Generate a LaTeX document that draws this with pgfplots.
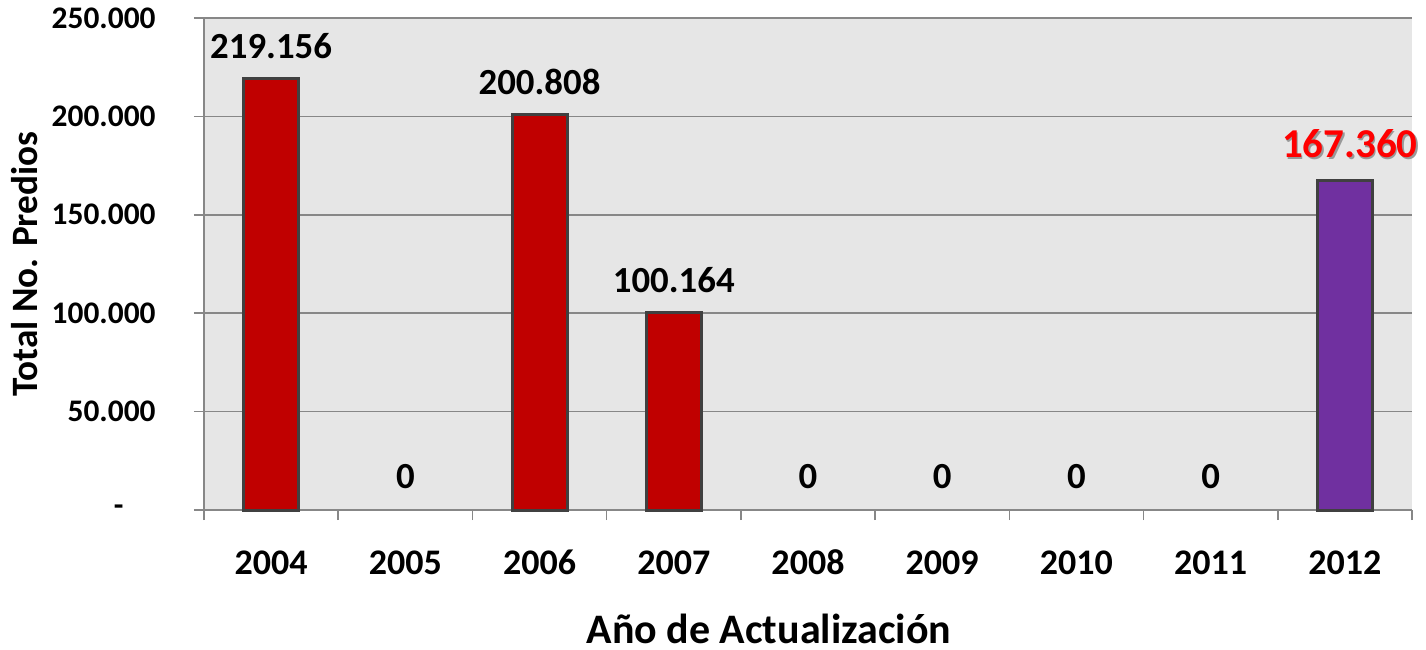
\documentclass[border=0pt]{standalone}
\usepackage{fontspec}
\setmainfont{Carlito}
\usepackage{pgfplots}
\usepackage{pgfplotstable}
\pgfplotsset{compat=1.18}
\definecolor{barred}{HTML}{C00000}
\definecolor{barpurple}{HTML}{7030A0}
\definecolor{bordergray}{HTML}{404040}
\definecolor{bggray}{HTML}{E6E6E6}
\definecolor{gridgray}{HTML}{878787}
\pgfplotstableread{
x y label
0 219156 219.156
2 200808 200.808
3 100164 100.164
}\redbars
\pgfplotstableread{
x y label
1 0 0
4 0 0
5 0 0
6 0 0
7 0 0
}\zerobars
\pgfplotstableread{
x y label
8 167360 167.360
}\purplebars
\begin{document}
\begin{tikzpicture}
\useasboundingbox (0,0) rectangle (713pt,324.5pt);
\begin{axis}[
  at={(102pt,69.5pt)}, anchor=south west,
  scale only axis, width=604pt, height=246pt,
  ybar, bar width=27.5pt, bar shift=0pt,
  xmin=-0.5, xmax=8.5, ymin=0, ymax=250000,
  scaled y ticks=false,
  axis background/.style={fill=bggray},
  axis lines*=left,
  axis line style={draw=gridgray, line width=0.75pt},
  tick align=outside,
  xtick={0,...,8},
  xticklabels={2004,2005,2006,2007,2008,2009,2010,2011,2012},
  major x tick style={draw=none},
  minor xtick={-0.5,0.5,...,8.5},
  minor tick length=5pt,
  minor x tick style={draw=gridgray, line width=0.75pt},
  ytick={0,50000,100000,150000,200000,250000},
  yticklabels={{-\rule{16pt}{0pt}},50.000,100.000,150.000,200.000,250.000},
  major tick length=5pt,
  major y tick style={draw=gridgray, line width=0.75pt},
  ymajorgrids,
  major grid style={draw=gridgray, line width=0.75pt},
  xticklabel style={font=\fontsize{18}{18}\selectfont\bfseries, inner sep=0pt, anchor=base},
  xticklabel shift=27pt,
  yticklabel style={font=\fontsize{15.7}{15.7}\selectfont\bfseries, inner sep=0pt, anchor=east},
  yticklabel shift=19pt,
  xlabel={Año de Actualización},
  xlabel style={font=\fontsize{21}{21}\selectfont\bfseries, at={(axis description cs:0.4677,-0.2704)}, anchor=base, inner sep=0pt},
  ylabel={Total No. Predios},
  ylabel style={font=\fontsize{18.6}{18.6}\selectfont\bfseries, at={(axis description cs:-0.1482,0.5)}, anchor=center},
  point meta=explicit symbolic,
  nodes near coords,
  nodes near coords style={font=\fontsize{18.4}{18.4}\selectfont\bfseries, anchor=center, yshift=16.5pt, inner sep=0pt},
  clip=false,
]
\addplot[fill=barred, draw=bordergray, line width=1.5pt] table[x=x, y=y, meta=label] {\redbars};
\addplot[fill=none, draw=none, nodes near coords style={text=black}] table[x=x, y=y, meta=label] {\zerobars};
\addplot[fill=none, draw=none, nodes near coords style={text=black!40, font=\fontsize{20.5}{20.5}\selectfont\bfseries, xshift=3.3pt, yshift=1pt}] table[x=x, y=y, meta=label] {\purplebars};
\addplot[fill=barpurple, draw=bordergray, line width=1.5pt, nodes near coords style={text=red, font=\fontsize{20.5}{20.5}\selectfont\bfseries, xshift=2.5pt, yshift=1.8pt}] table[x=x, y=y, meta=label] {\purplebars};
\end{axis}
\end{tikzpicture}
\end{document}
